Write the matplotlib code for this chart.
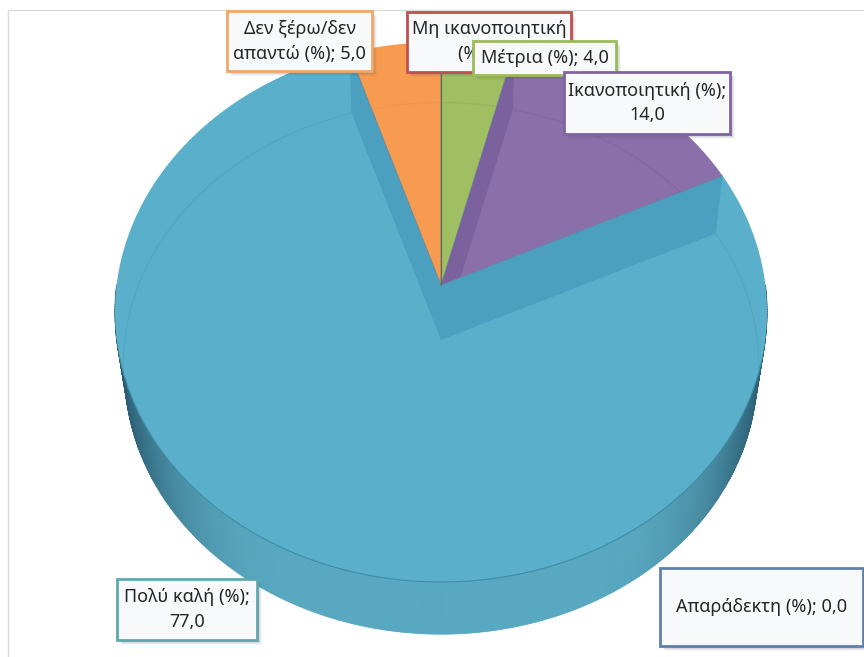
import numpy as np
import matplotlib
matplotlib.use("Agg")
import matplotlib.pyplot as plt
from matplotlib.patches import Polygon, Rectangle
from matplotlib.collections import PolyCollection
from matplotlib.colors import to_rgb

plt.rcParams['font.family'] = ['Noto Sans', 'DejaVu Sans']

categories = ["Απαράδεκτη", "Μη ικανοποιητική", "Μέτρια", "Ικανοποιητική", "Πολύ καλή", "Δεν ξέρω/δεν απαντώ"]
values = [0.0, 0.0, 4.0, 14.0, 77.0, 5.0]
fills = ["#4F81BD", "#C0504D", "#A0BE62", "#8B6FAA", "#5AAFCB", "#F79B50"]
walls = ["#4F81BD", "#C0504D", "#94B058", "#7B619E", "#4BA0BF", "#F79B50"]
arcs = ["#4F81BD", "#C0504D", "#99B55E", "#8468A5", "#54A8C4", "#F09550"]

label_texts = ["Απαράδεκτη (%); 0,0", "Μη ικανοποιητική\n(%); 0,0", "Μέτρια (%); 4,0",
               "Ικανοποιητική (%);\n14,0", "Πολύ καλή (%);\n77,0", "Δεν ξέρω/δεν\nαπαντώ (%); 5,0"]
label_boxes = [(660, 568, 203, 78), (407, 12, 164, 60), (473, 41, 143, 34),
               (564, 72, 166, 62), (117, 579, 140, 61), (227, 11, 145, 60)]
label_edges = ["#5F80AC", "#C0504D", "#9BBB59", "#8064A2", "#5FA9AC", "#F0A868"]
label_order = [0, 4, 5, 1, 2, 3]

CX, CY = 441.0, 285.0
A, B, K = 324.4, 267.3, 0.10
DROP_WALL = 55.0
DROP_RIM = 62.0
RIM_R = 0.97
INNER = 0.975


def proj(theta, r=1.0, drop=0.0):
    """Perspective projection of a pie point; theta is clockwise from 12 o'clock."""
    x = r * np.sin(theta)
    y = r * np.cos(theta)
    w = 1 + K * y
    return np.column_stack([CX + A * x / w, CY - B * y / w + drop])


fig = plt.figure(figsize=(8.64, 6.57), dpi=100, facecolor="white")
ax = fig.add_axes([0, 0, 1, 1])
ax.set_xlim(0, 864)
ax.set_ylim(657, 0)
ax.axis("off")

# frame of the chart area
ax.plot([8, 8, 864], [657, 10, 10], color="#DADADA", lw=1.0, zorder=0)

# rim
th = np.radians(np.linspace(90, 270, 361))
top = proj(th)
bot = proj(th, r=RIM_R, drop=DROP_RIM)
polys, cols = [], []
mid = np.array(to_rgb("#58A8C1"))
dark = np.array(to_rgb("#2A5C70"))
for i in range(len(th) - 1):
    polys.append([top[i], top[i + 1], bot[i + 1], bot[i]])
    t = abs((top[i, 0] + top[i + 1, 0]) / 2 - CX) / 326
    m = np.clip((t - 0.45) / 0.55, 0, 1) ** 2.4
    cols.append(mid * (1 - m) + dark * m)
ax.add_collection(PolyCollection(polys, facecolors=cols, edgecolors=cols, linewidths=0.6, zorder=1))

# slices
cum = np.concatenate([[0], np.cumsum(values)]) / np.sum(values) * 2 * np.pi
apex = np.array([[CX, CY]])
for i, v in enumerate(values):
    t = np.linspace(cum[i], cum[i + 1], max(2, int(v * 8)))
    outer = proj(t)
    poly = Polygon(np.vstack([apex, outer]), closed=True, facecolor=fills[i],
                   edgecolor="none", zorder=2)
    ax.add_patch(poly)
    if v == 0:
        continue
    clip = Polygon(np.vstack([apex, outer]), closed=True, transform=ax.transData)
    inner = proj(t, r=INNER, drop=DROP_WALL)
    in_apex = apex + np.array([[0, DROP_WALL]])
    # dark walls along the cut edges
    wall = np.vstack([apex, outer[:1], inner[:1], in_apex, inner[-1:], outer[-1:]])
    wp = Polygon(wall, closed=True, facecolor=walls[i], edgecolor="none", zorder=3)
    ax.add_patch(wp)
    wp.set_clip_path(clip)
    # faint inner arc
    ln, = ax.plot(inner[:, 0], inner[:, 1], color=arcs[i], lw=1.0, zorder=4)
    ln.set_clip_path(clip)
    # thin outline of cut edges
    ax.plot([outer[0, 0], CX, outer[-1, 0]], [outer[0, 1], CY, outer[-1, 1]],
            color="#5F7F95", lw=0.5, alpha=0.6, zorder=5)

# front edge of the top face
fr = proj(np.radians(np.linspace(105, 255, 200)))
ax.plot(fr[:, 0], fr[:, 1], color="#3F8CA6", lw=0.8, zorder=5)

# zero slice line at 12 o'clock
z = proj(np.array([cum[0]]))
ax.plot([CX, z[0, 0]], [CY, z[0, 1]], color="#5E6F55", lw=0.9, zorder=5)

# labels
z0 = 10
for i in label_order:
    x, y, w, h = label_boxes[i]
    for k, a in zip((6, 5, 4, 3, 2), (0.05, 0.08, 0.11, 0.15, 0.2)):
        ax.add_patch(Rectangle((x + k - 1, y + k - 1), w, h, facecolor="#555566",
                               edgecolor="none", alpha=a, zorder=z0))
    ax.add_patch(Rectangle((x, y), w, h, facecolor="#F8F9FB", edgecolor=label_edges[i],
                           lw=2.0, zorder=z0 + 1))
    ax.text(x + w / 2, y + h / 2, label_texts[i], ha="center", va="center",
            fontsize=13.0, color="#262626", linespacing=1.5, zorder=z0 + 2)
    z0 += 3

fig.savefig("out.png", dpi=100, facecolor="white")
